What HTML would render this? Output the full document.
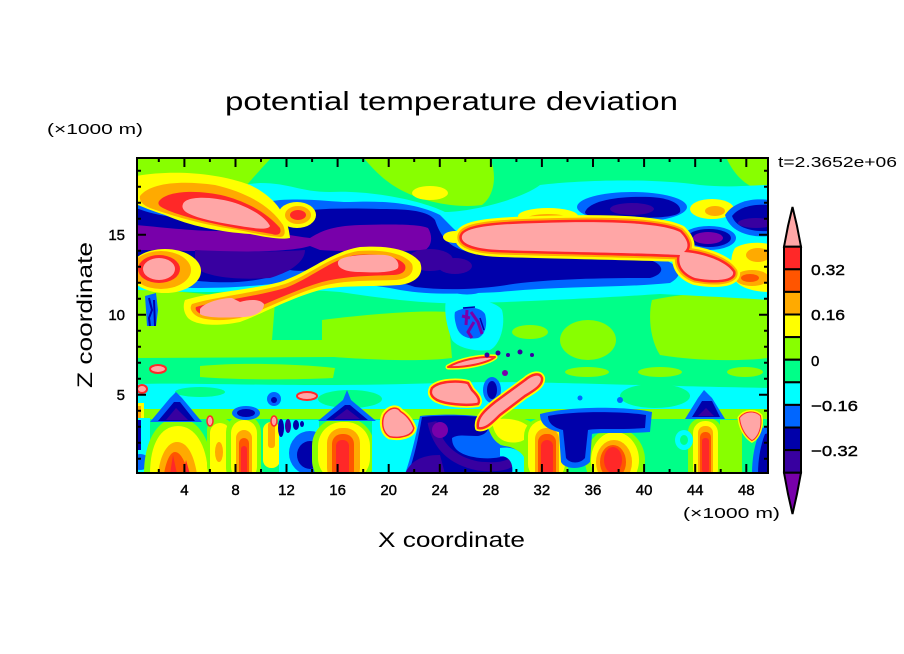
<!DOCTYPE html>
<html><head><meta charset="utf-8"><style>
html,body{margin:0;padding:0;background:#fff;}
svg{display:block;}
text{font-family:"Liberation Sans",sans-serif;fill:#000;}
</style></head><body>
<svg width="904" height="654" viewBox="0 0 904 654" xmlns="http://www.w3.org/2000/svg">
<defs><clipPath id="pc"><rect x="137" y="158" width="631" height="315"/></clipPath></defs>
<rect width="904" height="654" fill="#fff"/>
<g clip-path="url(#pc)">
<rect x="136" y="157" width="633" height="317" fill="#00ff88"/>
<!-- YG top -->
<path fill="#88ff00" d="M136,157 H272 Q258,172 246,186 L136,205 Z"/>
<path fill="#88ff00" d="M363,157 H490 C497,175 495,195 482,205 C460,208 430,204 405,192 C388,184 375,172 363,157 Z"/>
<path fill="#88ff00" d="M726,157 H769 V192 C752,190 736,180 726,157 Z"/>
<!-- YG mid -->
<path fill="#88ff00" d="M136,288 C180,292 240,296 275,302 L272,340 L335,340 L335,357 L136,358 Z"/>
<path fill="#88ff00" d="M322,320 C370,314 420,310 448,312 L452,358 C420,362 370,360 322,356 Z"/>
<path fill="#88ff00" d="M200,366 C240,362 300,364 335,368 L333,378 C290,380 240,380 200,377 Z"/>
<ellipse fill="#88ff00" cx="588" cy="340" rx="28" ry="20"/>
<path fill="#88ff00" d="M652,300 C690,292 740,290 769,292 V358 C730,362 690,360 660,355 C650,340 648,315 652,300 Z"/>
<ellipse fill="#88ff00" cx="587" cy="372" rx="22" ry="5"/>
<ellipse fill="#88ff00" cx="660" cy="372" rx="22" ry="5"/>
<ellipse fill="#88ff00" cx="745" cy="372" rx="18" ry="5"/>
<ellipse fill="#88ff00" cx="530" cy="332" rx="18" ry="7"/>
<!-- band envelope -->
<path fill="#00ffff" d="M136,198 C180,200 230,185 260,183 C290,183 300,192 330,192 C370,190 420,200 445,212 C470,212 520,200 540,185 C580,180 650,178 700,185 C730,188 750,185 769,185 L769,300 C740,298 700,296 660,294 C600,298 520,302 470,303 C430,305 380,298 340,292 C300,288 250,292 200,292 C170,292 150,290 136,290 Z"/>
<ellipse fill="#ffff00" cx="430" cy="193" rx="18" ry="7"/>
<ellipse fill="#ffff00" cx="712" cy="209" rx="22" ry="10"/>
<ellipse fill="#ffaa00" cx="715" cy="211" rx="10" ry="5"/>
<ellipse fill="#0066ff" cx="632" cy="207" rx="55" ry="15"/>
<path fill="#0000aa" d="M585,212 C590,200 620,196 650,197 C672,198 682,205 680,212 C676,218 650,218 620,218 C600,218 585,217 585,212 Z"/>
<ellipse fill="#3800a0" cx="632" cy="209" rx="22" ry="6"/>
<path fill="#0066ff" d="M136,203 C180,215 240,205 280,200 C310,198 330,202 350,202 C390,200 420,205 440,215 C460,235 470,248 500,252 C560,254 620,254 660,258 C680,265 685,275 670,283 C620,288 560,286 500,292 C460,294 430,295 400,290 C370,284 340,282 320,278 C290,282 250,288 200,288 C170,288 150,285 136,284 Z"/>
<path fill="#0000aa" d="M136,208 C170,222 230,222 280,215 C310,208 340,208 380,209 C410,209 428,211 435,220 C440,235 448,248 470,252 C520,256 600,257 650,260 C665,265 665,274 650,278 C600,278 540,279 500,286 C470,290 440,290 415,287 C400,282 390,280 380,281 L330,268 C310,270 300,272 290,270 C260,284 220,284 190,280 C165,270 150,264 136,262 Z"/>
<path fill="#7800aa" d="M136,225 C170,228 200,232 240,231 C270,230 290,236 310,238 C320,232 330,226 360,225 C390,224 420,224 428,228 C433,236 432,246 425,250 C390,252 350,252 320,250 L310,246 C290,252 250,252 200,251 C170,251 150,250 136,250 Z"/>
<path fill="#3800a0" d="M195,250 C230,252 280,252 305,250 C305,262 290,272 270,278 C240,280 210,278 195,268 Z"/>
<ellipse fill="#3800a0" cx="430" cy="260" rx="23" ry="11"/>
<ellipse fill="#3800a0" cx="455" cy="266" rx="17" ry="8"/>
<!-- right navy blobs -->
<ellipse fill="#0066ff" cx="709" cy="238" rx="27" ry="12"/>
<ellipse fill="#0000aa" cx="709" cy="238" rx="22" ry="9"/>
<ellipse fill="#7800aa" cx="708" cy="238" rx="15" ry="6"/>
<path fill="#0066ff" d="M725,215 C735,200 755,198 769,200 V236 C750,238 730,232 725,215 Z"/>
<path fill="#0000aa" d="M732,216 C740,206 755,204 769,205 V231 C752,232 736,228 732,216 Z"/>
<ellipse fill="#3800a0" cx="756" cy="223" rx="18" ry="5"/>
<!-- top-left warm blob -->
<path fill="#ffff00" d="M136,176 C170,170 215,172 250,185 C275,197 288,215 290,238 C280,240 265,237 250,234 C220,232 190,226 165,215 C150,210 140,206 136,204 Z"/>
<path fill="#ffaa00" d="M140,196 C150,183 180,180 215,185 C245,192 270,205 283,225 C286,232 285,237 280,237 C265,236 250,232 232,229 C200,224 170,215 150,208 C142,205 139,200 140,196 Z"/>
<path fill="#ff2828" d="M160,200 C170,190 200,190 225,196 C250,203 268,214 280,228 C282,234 278,236 272,234 C255,231 240,229 225,226 C200,221 175,214 165,209 C158,206 157,203 160,200 Z"/>
<path fill="#ffa6a6" d="M183,204 C186,196 210,196 232,202 C252,208 266,218 270,226 C268,230 258,229 240,226 C215,222 195,218 186,212 C182,209 182,206 183,204 Z"/>
<!-- small red blob -->
<ellipse fill="#ffff00" cx="297" cy="215" rx="19" ry="13"/>
<ellipse fill="#ffaa00" cx="298" cy="215" rx="13" ry="9"/>
<ellipse fill="#ff2828" cx="298" cy="215" rx="8" ry="5"/>
<!-- left pink blob -->
<ellipse fill="#ffff00" cx="165" cy="271" rx="36" ry="22"/>
<ellipse fill="#ffaa00" cx="161" cy="270" rx="30" ry="19"/>
<ellipse fill="#ff2828" cx="159" cy="269" rx="21" ry="14"/>
<ellipse fill="#ffa6a6" cx="159" cy="269" rx="16" ry="11"/>
<!-- diagonal band -->
<path fill="#ffff00" d="M185,300 C210,292 250,290 280,282 C310,272 330,252 360,247 C390,245 410,250 420,262 C425,275 415,283 400,285 C370,287 340,285 320,290 C290,298 260,315 240,322 C215,327 195,325 188,318 C183,312 183,305 185,300 Z"/>
<path fill="#ffaa00" d="M192,304 C215,297 255,293 285,284 C310,275 330,256 358,251 C385,249 405,254 412,264 C415,273 408,279 395,280 C370,281 345,280 322,286 C295,293 265,310 240,318 C218,322 200,320 194,314 C190,310 190,307 192,304 Z"/>
<path fill="#ff2828" d="M196,307 C220,300 255,297 285,288 C310,279 330,260 355,255 C380,253 400,257 405,265 C407,271 402,275 392,275 C370,276 345,276 322,282 C295,290 265,305 240,314 C222,318 205,317 199,313 C196,311 195,309 196,307 Z"/>
<path fill="#ffa6a6" d="M200,309 C205,302 222,298 232,298 L240,302 C250,299 260,299 264,304 C264,312 255,316 245,317 C225,318 205,318 200,314 Z"/>
<path fill="#ffa6a6" d="M338,262 C340,256 360,254 385,255 C395,256 400,262 398,268 C394,272 380,273 360,272 C345,272 337,268 338,262 Z"/>
<!-- right halos -->
<path fill="#ffff00" d="M735,248 C745,242 760,242 769,244 V292 C755,292 740,288 735,280 C730,268 730,256 735,248 Z"/>
<ellipse fill="#ffaa00" cx="758" cy="255" rx="12" ry="7"/>
<ellipse fill="#ffaa00" cx="752" cy="278" rx="17" ry="8"/>
<ellipse fill="#ff5500" cx="750" cy="278" rx="9" ry="4"/>
<!-- big pink -->
<ellipse fill="#ffff00" cx="548" cy="216" rx="30" ry="8"/>
<ellipse fill="#ffaa00" cx="548" cy="219" rx="22" ry="5"/>
<ellipse fill="#ffff00" cx="455" cy="237" rx="12" ry="6"/>
<path fill="#ffff00" stroke="#ffff00" stroke-width="14" stroke-linejoin="round" d="M462,236 C465,226 500,224 540,223 C600,221 660,222 680,232 C688,240 690,247 684,252 C700,253 725,260 733,272 C735,280 715,282 695,278 C680,272 678,262 680,255 C640,253 560,252 500,250 C475,249 460,244 462,236 Z"/>
<path fill="#ffaa00" stroke="#ffaa00" stroke-width="9" stroke-linejoin="round" d="M462,236 C465,226 500,224 540,223 C600,221 660,222 680,232 C688,240 690,247 684,252 C700,253 725,260 733,272 C735,280 715,282 695,278 C680,272 678,262 680,255 C640,253 560,252 500,250 C475,249 460,244 462,236 Z"/>
<path fill="#ff2828" stroke="#ff2828" stroke-width="5" stroke-linejoin="round" d="M462,236 C465,226 500,224 540,223 C600,221 660,222 680,232 C688,240 690,247 684,252 C700,253 725,260 733,272 C735,280 715,282 695,278 C680,272 678,262 680,255 C640,253 560,252 500,250 C475,249 460,244 462,236 Z"/>
<path fill="#ffa6a6" d="M462,236 C465,226 500,224 540,223 C600,221 660,222 680,232 C688,240 690,247 684,252 C700,253 725,260 733,272 C735,280 715,282 695,278 C680,272 678,262 680,255 C640,253 560,252 500,250 C475,249 460,244 462,236 Z"/>
<!-- mid features -->
<path fill="#0066ff" d="M145,296 L156,293 L158,310 L156,326 L147,326 L146,310 Z"/>
<path fill="none" stroke="#0000aa" stroke-width="2" d="M149,298 L152,310 L149,318 L150,326 M154,300 L155,326"/>
<path fill="#00ffff" d="M446,300 C470,298 495,300 502,310 C506,325 500,345 490,350 C475,352 458,348 452,340 C446,325 444,310 446,300 Z"/>
<path fill="#0066ff" d="M455,312 C465,306 480,306 485,314 C488,325 485,335 478,338 C468,340 460,336 457,328 C455,322 454,316 455,312 Z"/>
<ellipse fill="#0066ff" cx="467" cy="292" rx="12" ry="2.5"/>
<path fill="none" stroke="#7800aa" stroke-width="3" d="M467,310 L466,325 M471,312 L478,322 L482,334 M474,322 L468,332 L472,338 M462,316 L470,318"/>
<path fill="none" stroke="#0000aa" stroke-width="1.5" d="M463,308 L475,307 M480,318 L484,330"/>
<!-- low cyan band -->
<path fill="#00ffff" d="M136,384 C200,382 300,388 440,383 C520,380 600,385 769,388 L769,412 L136,412 Z"/>
<ellipse fill="#00ff88" cx="350" cy="399" rx="32" ry="9"/>
<ellipse fill="#00ff88" cx="655" cy="396" rx="35" ry="12"/>
<ellipse fill="#00ff88" cx="200" cy="392" rx="25" ry="5"/>
<rect fill="#88ff00" x="136" y="409" width="633" height="11"/>
<rect fill="#00ff88" x="136" y="419" width="633" height="55"/>
<!-- left edge -->
<rect fill="#ffff00" x="136" y="403" width="8" height="17"/>
<rect fill="#ffaa00" x="136" y="406" width="5" height="12"/>
<rect fill="#00ffff" x="136" y="418" width="14" height="56"/>
<ellipse fill="#0066ff" cx="140" cy="462" rx="10" ry="8"/>
<rect fill="#0000aa" x="137" y="420" width="4" height="30"/>
<!-- col1 -->
<path fill="#88ff00" d="M144,474 C144,440 158,418 178,418 C198,418 212,440 213,474 Z"/>
<path fill="#ffff00" d="M150,474 C150,445 160,426 178,426 C195,426 207,445 208,474 Z"/>
<path fill="#ffaa00" d="M158,474 C160,456 167,442 177,442 C188,442 194,456 197,474 Z"/>
<path fill="#ff5500" d="M164,474 C166,462 170,452 175,452 C180,452 184,460 186,466 L190,474 Z"/>
<path fill="#ff2828" d="M170,474 L173,455 L177,474 Z M183,474 L186,460 L190,474 Z"/>
<!-- col2 -->
<rect fill="#88ff00" x="207" y="418" width="26" height="60" rx="12"/>
<rect fill="#ffff00" x="210" y="423" width="20" height="60" rx="10"/>
<ellipse fill="#ffaa00" cx="219" cy="452" rx="4" ry="10"/>
<!-- col3 -->
<rect fill="#88ff00" x="226" y="415" width="35" height="70" rx="17"/>
<rect fill="#ffff00" x="231" y="420" width="26" height="60" rx="13"/>
<rect fill="#ffaa00" x="236" y="430" width="16" height="50" rx="8"/>
<rect fill="#ff5500" x="239" y="438" width="10" height="45" rx="5"/>
<rect fill="#ff2828" x="241" y="446" width="6" height="30" rx="3"/>
<!-- col4 -->
<rect fill="#ffff00" x="263" y="422" width="17" height="46" rx="8"/>
<rect fill="#ffaa00" x="268" y="422" width="7" height="26" rx="3"/>
<!-- blob5 -->
<rect fill="#00ffff" x="279" y="420" width="40" height="54"/>
<ellipse fill="#0066ff" cx="310" cy="453" rx="21" ry="22"/>
<ellipse fill="#0000aa" cx="310" cy="455" rx="13" ry="14"/>
<ellipse fill="#0000aa" cx="281" cy="428" rx="3" ry="9"/>
<ellipse fill="#3800a0" cx="288" cy="426" rx="3" ry="7"/>
<ellipse fill="#0000aa" cx="296" cy="425" rx="3" ry="5"/>
<ellipse fill="#0000aa" cx="302" cy="424" rx="2" ry="3"/>
<!-- col6 -->
<rect fill="#88ff00" x="312" y="418" width="62" height="70" rx="28"/>
<rect fill="#ffff00" x="318" y="422" width="52" height="60" rx="24"/>
<rect fill="#ffaa00" x="327" y="428" width="33" height="55" rx="15"/>
<rect fill="#ff5500" x="332" y="434" width="22" height="50" rx="10"/>
<rect fill="#ff2828" x="336" y="440" width="13" height="40" rx="6"/>
<rect fill="#00ffff" x="372" y="420" width="56" height="54"/>
<!-- dark S -->
<path fill="#0066ff" d="M420,416 C440,414 470,414 490,418 C498,428 495,438 500,445 C512,448 528,445 532,452 L532,474 L405,474 C410,460 415,440 420,416 Z"/>
<path fill="#0000aa" d="M422,417 C440,415 470,415 488,418 C492,428 486,436 476,436 C466,436 458,434 452,438 C452,450 462,456 480,458 C500,460 512,454 522,448 L528,474 L408,474 C414,458 418,440 422,417 Z"/>
<path fill="none" stroke="#3800a0" stroke-width="9" d="M432,422 C436,442 448,460 478,466 C498,468 508,466 514,460"/>
<path fill="#0066ff" d="M456,440 C466,438 478,440 484,446 C478,452 466,452 458,448 Z"/>
<ellipse fill="#7800aa" cx="440" cy="430" rx="8" ry="8"/>
<path fill="#3800a0" d="M405,474 C410,462 420,455 440,455 L445,474 Z"/>
<!-- swirl -->
<path fill="#88ff00" d="M486,419 C500,415 525,415 535,425 L535,474 L526,474 C526,458 520,448 505,446 C495,444 489,435 486,419 Z"/>
<path fill="#ffff00" d="M492,420 C505,417 522,419 530,428 C530,440 520,444 508,442 C498,440 493,432 492,420 Z"/>
<path fill="#00ffff" d="M500,448 C515,446 528,452 528,474 L512,474 C514,462 508,456 500,456 Z"/>
<!-- col7 -->
<rect fill="#88ff00" x="524" y="418" width="44" height="70" rx="18"/>
<rect fill="#ffff00" x="528" y="420" width="37" height="60" rx="16"/>
<rect fill="#ffaa00" x="535" y="428" width="24" height="55" rx="11"/>
<rect fill="#ff5500" x="538" y="434" width="18" height="50" rx="8"/>
<rect fill="#ff2828" x="541" y="440" width="12" height="40" rx="6"/>
<!-- blob8 -->
<ellipse fill="#88ff00" cx="615" cy="460" rx="30" ry="32"/>
<ellipse fill="#ffff00" cx="615" cy="460" rx="24" ry="28"/>
<ellipse fill="#ffaa00" cx="614" cy="462" rx="18" ry="22"/>
<ellipse fill="#ff5500" cx="613" cy="462" rx="13" ry="17"/>
<ellipse fill="#ff2828" cx="613" cy="460" rx="9" ry="13"/>
<!-- navy band low -->
<path fill="#0066ff" d="M540,414 C570,406 625,406 652,412 L650,432 C625,434 600,432 592,434 L590,462 C583,470 565,470 561,462 L559,432 C550,430 540,426 540,414 Z"/>
<path fill="#0000aa" d="M548,416 C572,411 622,411 646,415 L645,428 C622,430 598,428 588,430 L585,458 C580,464 570,464 566,458 L563,430 C555,428 548,424 548,416 Z"/>
<!-- col9 -->
<rect fill="#88ff00" x="688" y="418" width="34" height="70" rx="14"/>
<rect fill="#ffff00" x="693" y="421" width="25" height="60" rx="12"/>
<rect fill="#ffaa00" x="698" y="426" width="15" height="55" rx="7"/>
<rect fill="#ff5500" x="700" y="432" width="11" height="50" rx="5"/>
<rect fill="#ff2828" x="702" y="438" width="7" height="35" rx="3"/>
<ellipse fill="#00ffff" cx="684" cy="440" rx="9" ry="10"/>
<ellipse fill="#00ff88" cx="684" cy="440" rx="4" ry="5"/>
<rect fill="#88ff00" x="720" y="420" width="22" height="54"/>
<path fill="#0066ff" d="M685,419 L698,398 L704,390 L712,398 L725,419 Z"/>
<path fill="#0000aa" d="M692,417 L702,401 L712,401 L720,417 Z"/>
<path fill="#3800a0" d="M698,416 L706,408 L714,416 Z"/>
<!-- right edge -->
<path fill="#0066ff" d="M752,474 C752,455 756,438 762,428 L769,426 V474 Z"/>
<path fill="#0000aa" d="M758,474 C758,458 761,444 765,434 L769,433 V474 Z"/>
<path fill="#ffff00" stroke="#ffff00" stroke-width="5" d="M740,418 C745,411 755,411 760,416 C762,426 758,437 752,440 C746,436 741,428 740,418 Z"/>
<path fill="#ff2828" stroke="#ff2828" stroke-width="2" d="M740,418 C745,411 755,411 760,416 C762,426 758,437 752,440 C746,436 741,428 740,418 Z"/>
<path fill="#ffa6a6" d="M740,418 C745,411 755,411 760,416 C762,426 758,437 752,440 C746,436 741,428 740,418 Z"/>
<!-- left triangles -->
<path fill="#0066ff" d="M150,422 L170,398 L176,392 L182,398 L202,422 Z"/>
<path fill="#0000aa" d="M158,421 L174,402 L180,402 L195,421 Z"/>
<path fill="#3800a0" d="M166,420 L176,408 L188,420 Z"/>
<ellipse fill="#0066ff" cx="246" cy="413" rx="14" ry="7"/>
<ellipse fill="#0000aa" cx="246" cy="413" rx="9" ry="4"/>
<path fill="#0066ff" d="M318,421 L343,400 L347,390 L351,400 L376,421 Z"/>
<path fill="#0000aa" d="M326,420 L345,405 L350,405 L368,420 Z"/>
<path fill="#3800a0" d="M334,419 L347,409 L360,419 Z"/>
<ellipse fill="#0066ff" cx="274" cy="399" rx="7" ry="7"/>
<ellipse fill="#0000aa" cx="274" cy="400" rx="3" ry="3"/>
<!-- pink blob low -->
<path fill="#ffff00" stroke="#ffff00" stroke-width="7" d="M385,415 C390,408 397,407 400,412 C405,415 410,420 413,428 C412,435 400,438 390,436 C383,432 382,422 385,415 Z"/>
<path fill="#ff2828" stroke="#ff2828" stroke-width="3" d="M385,415 C390,408 397,407 400,412 C405,415 410,420 413,428 C412,435 400,438 390,436 C383,432 382,422 385,415 Z"/>
<path fill="#ffa6a6" d="M385,415 C390,408 397,407 400,412 C405,415 410,420 413,428 C412,435 400,438 390,436 C383,432 382,422 385,415 Z"/>
<!-- mid pinks -->
<ellipse fill="#0066ff" cx="492" cy="390" rx="9" ry="13"/>
<ellipse fill="#0000aa" cx="492" cy="390" rx="5" ry="9"/>
<g stroke-linejoin="round">
<path fill="#ffff00" stroke="#ffff00" stroke-width="6" d="M432,388 C440,380 460,381 468,383 L472,390 C477,395 481,400 478,404 C465,406 445,404 437,400 C430,396 430,392 432,388 Z"/>
<path fill="#ffa6a6" stroke="#ff2828" stroke-width="2.5" d="M432,388 C440,380 460,381 468,383 L472,390 C477,395 481,400 478,404 C465,406 445,404 437,400 C430,396 430,392 432,388 Z"/>
<path fill="#ffff00" stroke="#ffff00" stroke-width="5" d="M448,367 C460,360 480,356 495,357 C488,363 465,368 448,367 Z"/>
<path fill="#ffa6a6" stroke="#ff2828" stroke-width="2" d="M448,367 C460,360 480,356 495,357 C488,363 465,368 448,367 Z"/>
<path fill="#ffff00" stroke="#ffff00" stroke-width="6" d="M478,428 C476,418 485,410 495,402 L525,380 C532,374 540,372 542,378 C543,385 535,390 525,396 L500,415 C492,423 485,430 478,428 Z"/>
<path fill="#ffa6a6" stroke="#ff2828" stroke-width="2.5" d="M478,428 C476,418 485,410 495,402 L525,380 C532,374 540,372 542,378 C543,385 535,390 525,396 L500,415 C492,423 485,430 478,428 Z"/>
<ellipse fill="#ffa6a6" stroke="#ff2828" stroke-width="2" cx="158" cy="369" rx="8" ry="4"/>
<ellipse fill="#ffa6a6" stroke="#ff2828" stroke-width="2" cx="142" cy="389" rx="5" ry="4"/>
<ellipse fill="#ffa6a6" stroke="#ff2828" stroke-width="2" cx="307" cy="396" rx="10" ry="4"/>
<ellipse fill="#ffa6a6" stroke="#ff2828" stroke-width="1.5" cx="210" cy="421" rx="3" ry="5"/>
<ellipse fill="#ffa6a6" stroke="#ff2828" stroke-width="1.5" cx="274" cy="421" rx="3" ry="5"/>
</g>
<circle fill="#3800a0" cx="487" cy="355" r="2.5"/>
<circle fill="#3800a0" cx="498" cy="353" r="2.5"/>
<circle fill="#3800a0" cx="508" cy="355" r="2"/>
<circle fill="#3800a0" cx="520" cy="352" r="2.5"/>
<circle fill="#3800a0" cx="532" cy="355" r="2"/>
<circle fill="#7800aa" cx="505" cy="373" r="3"/>
<circle fill="#0066ff" cx="620" cy="400" r="3"/>
<circle fill="#0066ff" cx="580" cy="398" r="2.5"/>
</g>
<!-- frame -->
<rect x="137" y="158" width="631" height="315" fill="none" stroke="#000" stroke-width="2"/>
<path stroke="#000" stroke-width="2" fill="none" d="
M184.4,473V464M235.5,473V464M286.5,473V464M337.6,473V464M388.7,473V464M439.8,473V464M490.9,473V464M541.9,473V464M593,473V464M644.1,473V464M695.2,473V464M746.3,473V464
M158.8,473V469M209.9,473V469M261,473V469M312.1,473V469M363.2,473V469M414.2,473V469M465.3,473V469M516.4,473V469M567.5,473V469M618.6,473V469M669.6,473V469M720.7,473V469
M184.4,158V167M235.5,158V167M286.5,158V167M337.6,158V167M388.7,158V167M439.8,158V167M490.9,158V167M541.9,158V167M593,158V167M644.1,158V167M695.2,158V167M746.3,158V167
M158.8,158V162M209.9,158V162M261,158V162M312.1,158V162M363.2,158V162M414.2,158V162M465.3,158V162M516.4,158V162M567.5,158V162M618.6,158V162M669.6,158V162M720.7,158V162
M137,394.7H146M137,314.7H146M137,234.7H146
M768,394.7H759M768,314.7H759M768,234.7H759
M137,458.7H141M137,442.7H141M137,426.7H141M137,410.7H141M137,378.7H141M137,362.7H141M137,346.7H141M137,330.7H141M137,298.7H141M137,282.7H141M137,266.7H141M137,250.7H141M137,218.7H141M137,202.7H141M137,186.7H141M137,170.7H141
M768,458.7H764M768,442.7H764M768,426.7H764M768,410.7H764M768,378.7H764M768,362.7H764M768,346.7H764M768,330.7H764M768,298.7H764M768,282.7H764M768,266.7H764M768,250.7H764M768,218.7H764M768,202.7H764M768,186.7H764M768,170.7H764"/>
<!-- colorbar -->
<g stroke="#000" stroke-width="2">
<path fill="#ffa6a6" d="M784,246.7 L801,246.7 L797,226 L792.5,207 L788,226 Z"/>
<rect x="784" y="246.7" width="17" height="22.6" fill="#ff2828"/>
<rect x="784" y="269.3" width="17" height="22.6" fill="#ff5500"/>
<rect x="784" y="291.9" width="17" height="22.6" fill="#ffaa00"/>
<rect x="784" y="314.5" width="17" height="22.6" fill="#ffff00"/>
<rect x="784" y="337.1" width="17" height="22.6" fill="#88ff00"/>
<rect x="784" y="359.7" width="17" height="22.6" fill="#00ff88"/>
<rect x="784" y="382.3" width="17" height="22.6" fill="#00ffff"/>
<rect x="784" y="404.9" width="17" height="22.6" fill="#0066ff"/>
<rect x="784" y="427.5" width="17" height="22.6" fill="#0000aa"/>
<rect x="784" y="450.1" width="17" height="22.6" fill="#3800a0"/>
<path fill="#7800aa" d="M784,472.7 L801,472.7 L797,494 L792.5,514 L788,494 Z"/>
</g>
<!-- text -->
<text x="225" y="110" font-size="26" textLength="453" lengthAdjust="spacingAndGlyphs">potential temperature deviation</text>
<text x="47" y="134" font-size="15" textLength="96" lengthAdjust="spacingAndGlyphs">(×1000 m)</text>
<text x="778" y="167" font-size="15" textLength="119" lengthAdjust="spacingAndGlyphs">t=2.3652e+06</text>
<text transform="translate(92,315) rotate(-90)" text-anchor="middle" font-size="21" textLength="146" lengthAdjust="spacingAndGlyphs">Z coordinate</text>
<text x="378" y="547" font-size="21" textLength="147" lengthAdjust="spacingAndGlyphs">X coordinate</text>
<text x="683" y="518" font-size="15" textLength="97" lengthAdjust="spacingAndGlyphs">(×1000 m)</text>
<g font-size="15" stroke="#000" stroke-width="0.4">
<text x="125" y="240" text-anchor="end">15</text>
<text x="125" y="320" text-anchor="end">10</text>
<text x="125" y="400" text-anchor="end">5</text>
<text x="184.4" y="495" text-anchor="middle">4</text>
<text x="235.5" y="495" text-anchor="middle">8</text>
<text x="286.5" y="495" text-anchor="middle">12</text>
<text x="337.6" y="495" text-anchor="middle">16</text>
<text x="388.7" y="495" text-anchor="middle">20</text>
<text x="439.8" y="495" text-anchor="middle">24</text>
<text x="490.9" y="495" text-anchor="middle">28</text>
<text x="541.9" y="495" text-anchor="middle">32</text>
<text x="593" y="495" text-anchor="middle">36</text>
<text x="644.1" y="495" text-anchor="middle">40</text>
<text x="695.2" y="495" text-anchor="middle">44</text>
<text x="746.3" y="495" text-anchor="middle">48</text>
<text x="811" y="275" textLength="34" lengthAdjust="spacingAndGlyphs">0.32</text>
<text x="811" y="320" textLength="34" lengthAdjust="spacingAndGlyphs">0.16</text>
<text x="811" y="366">0</text>
<text x="811" y="411" textLength="47" lengthAdjust="spacingAndGlyphs">−0.16</text>
<text x="811" y="456" textLength="47" lengthAdjust="spacingAndGlyphs">−0.32</text>
</g>
</svg>
</body></html>
